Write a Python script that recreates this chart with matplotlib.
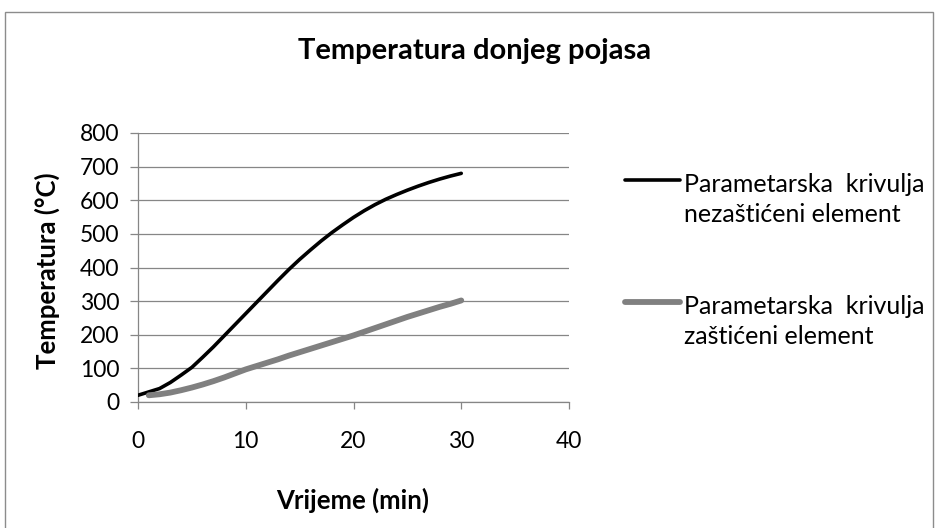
import matplotlib
matplotlib.use("Agg")
import matplotlib.pyplot as plt
from matplotlib.lines import Line2D
from matplotlib.patches import Rectangle

plt.rcParams['font.family'] = ['Lato', 'DejaVu Sans']

# Time in minutes
t_unprotected = list(range(0, 31))
temp_unprotected = [20, 30, 40, 58, 80, 103, 133, 164, 197, 230, 263, 296, 329, 362,
                    394, 424, 452, 479, 504, 527, 549, 569, 587, 603, 617, 630, 642,
                    653, 663, 672, 680]

t_protected = list(range(1, 31))
temp_protected = [20, 23, 28, 35, 43, 52, 62, 73, 85, 97, 107, 117, 127, 138, 148, 158,
                  168, 178, 188, 198, 209, 220, 231, 242, 253, 263, 273, 283, 292, 302]

series_labels = ["Parametarska  krivulja\nnezaštićeni element",
                 "Parametarska  krivulja\nzaštićeni element"]
x_ticks = [0, 10, 20, 30, 40]
y_ticks = [0, 100, 200, 300, 400, 500, 600, 700, 800]

W, H = 936, 528
fig = plt.figure(figsize=(W / 100, H / 100), dpi=100)

# chart frame (bottom edge runs off the canvas)
fig.add_artist(Rectangle((5 / W, -5 / H), 928 / W, (H - 11.5 + 5) / H, transform=fig.transFigure,
                         fill=False, edgecolor="#8c8c8c", linewidth=1.0))

ax = fig.add_axes([138 / W, 126 / H, 431 / W, 269 / H])
ax.plot(t_unprotected, temp_unprotected, color="black", linewidth=2.6,
        solid_capstyle="round", solid_joinstyle="round", zorder=3)
ax.plot(t_protected, temp_protected, color="#808080", linewidth=4.2,
        solid_capstyle="round", solid_joinstyle="round", zorder=3)

ax.set_xlim(0, 40)
ax.set_ylim(0, 800)
ax.set_xticks(x_ticks)
ax.set_yticks(y_ticks)
ax.grid(axis="y", color="#868686", linewidth=0.9)
ax.set_axisbelow(True)
for s in ["top", "right"]:
    ax.spines[s].set_visible(False)
for s in ["left", "bottom"]:
    ax.spines[s].set_color("#868686")
    ax.spines[s].set_linewidth(0.9)
ax.tick_params(axis="x", direction="out", length=5, width=0.9, color="#868686",
               labelsize=16.5, pad=16)
ax.tick_params(axis="y", direction="out", length=5.5, width=0.9, color="#868686",
               labelsize=16.5, pad=8)

fig.text(475 / W, 1 - 51 / H, "Temperatura donjeg pojasa", ha="center", va="center",
         fontsize=21, fontweight="bold")
fig.text(353 / W, 1 - 500 / H, "Vrijeme (min)", ha="center", va="center",
         fontsize=18.5, fontweight="bold")
fig.text(47 / W, 1 - 271 / H, "Temperatura (°C)", ha="center", va="center",
         rotation=90, fontsize=18.5, fontweight="bold")

# legend
legend_rows = [(180, "black", 2.6), (302, "#808080", 4.2)]
for (ly, col, lw), lab in zip(legend_rows, series_labels):
    fig.add_artist(Line2D([625 / W, 680 / W], [1 - ly / H, 1 - ly / H],
                          transform=fig.transFigure, color=col, linewidth=lw,
                          solid_capstyle="round"))
    fig.text(684 / W, 1 - (ly - 7) / H, lab, ha="left", va="top", fontsize=18,
             linespacing=1.38)

fig.savefig("out.png", dpi=100)
